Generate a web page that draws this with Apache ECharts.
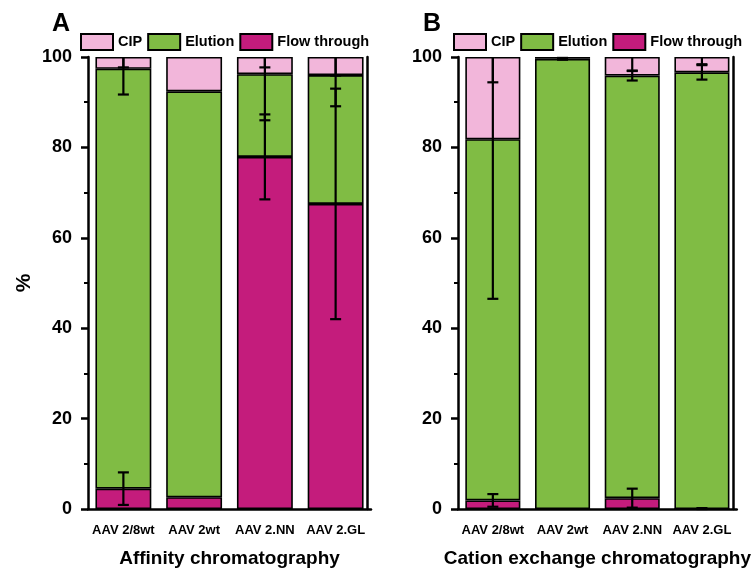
<!DOCTYPE html>
<html>
<head>
<meta charset="utf-8">
<script src="https://cdn.jsdelivr.net/npm/echarts@6/dist/echarts.min.js"></script>
<style>
  html, body { margin: 0; padding: 0; background: #fff; }
  #chart { width: 754px; height: 573px; }
</style>
</head>
<body>
<div id="chart"></div>
<script>
// Vector categories (shared by both panels)
const categories = ['AAV 2/8wt', 'AAV 2wt', 'AAV 2.NN', 'AAV 2.GL'];
const seriesNames = ['CIP', 'Elution', 'Flow through'];

// Panel A - affinity chromatography, share of vector in each fraction (%)
const affFlow = [4.5, 2.6, 77.9, 67.5];
const affElution = [92.9, 89.8, 18.3, 28.5];
const affCip = [2.6, 7.6, 3.8, 4.0];
// standard deviations (null = no error bar)
const affFlowSd = [3.6, null, 9.4, 25.5];
const affElutionSd = [5.7, null, 10.2, 6.9];
const affCipSd = [2.3, null, 2.3, 4.1];

// Panel B - cation exchange chromatography (%)
const cexFlow = [1.9, 0, 2.4, 0];
const cexElution = [79.9, 99.6, 93.5, 96.6];
const cexCip = [18.2, 0.4, 4.1, 3.4];
const cexFlowSd = [1.4, null, 2.1, 0.2];
const cexElutionSd = [35.3, 0.2, 1.1, 1.6];
const cexCipSd = [5.6, null, 3.1, 1.6];

// y axis scale
const yMin = 0, yMax = 100, yStep = 20;

const FONT = 'Liberation Sans, Arial, Helvetica, sans-serif';
const colors = { 'CIP': '#F2B6DA', 'Elution': '#80BC44', 'Flow through': '#C41C7C' };

// error bars are centred on the top of each stacked segment
function errorData(flow, elution, cip, flowSd, elutionSd, cipSd) {
  const out = [];
  categories.forEach((c, i) => {
    const t1 = flow[i];
    const t2 = t1 + elution[i];
    const t3 = t2 + cip[i];
    if (flowSd[i] != null) out.push([i, t1, flowSd[i]]);
    if (elutionSd[i] != null) out.push([i, t2, elutionSd[i]]);
    if (cipSd[i] != null) out.push([i, t3, cipSd[i]]);
  });
  return out;
}

function renderError(params, api) {
  const i = api.value(0), top = api.value(1), sd = api.value(2);
  const hiV = top + sd;
  const loV = Math.max(top - sd, yMin);
  const hi = api.coord([i, Math.min(hiV, yMax)]);
  const lo = api.coord([i, loV]);
  const cw = 5.5;
  const st = { stroke: '#000', lineWidth: 2.2 };
  const children = [
    { type: 'line', shape: { x1: lo[0], y1: lo[1], x2: hi[0], y2: hi[1] }, style: st },
    { type: 'line', shape: { x1: lo[0] - cw, y1: lo[1], x2: lo[0] + cw, y2: lo[1] }, style: st }
  ];
  if (hiV <= yMax) {
    children.push({ type: 'line', shape: { x1: hi[0] - cw, y1: hi[1], x2: hi[0] + cw, y2: hi[1] }, style: st });
  }
  return { type: 'group', children: children };
}

function xAxes(gridIndex, name) {
  const line = { lineStyle: { color: '#000', width: 2.5 } };
  return [
    {
      type: 'category', gridIndex: gridIndex, position: 'bottom', data: categories,
      axisLine: line,
      axisTick: { alignWithLabel: true, length: 7, lineStyle: { color: '#000', width: 2.5 } },
      axisLabel: { interval: 0, color: '#000', fontFamily: FONT, fontWeight: 'bold', fontSize: 13, margin: 15 },
      name: name, nameLocation: 'middle', nameGap: 40,
      nameTextStyle: { color: '#000', fontFamily: FONT, fontWeight: 'bold', fontSize: 19 }
    },
    {
      type: 'category', gridIndex: gridIndex, position: 'bottom', data: categories,
      axisLine: { show: false },
      axisTick: { interval: 0, length: 4, lineStyle: { color: '#000', width: 2 } },
      axisLabel: { show: false }
    }
  ];
}

function yAxes(gridIndex, name, rightOffset) {
  return [
    {
      type: 'value', gridIndex: gridIndex, position: 'left', min: yMin, max: yMax, interval: yStep,
      axisLine: { show: true, lineStyle: { color: '#000', width: 2.5 } },
      axisTick: { show: true, length: 7, lineStyle: { color: '#000', width: 2.5 } },
      minorTick: { show: true, splitNumber: 2, length: 4, lineStyle: { color: '#000', width: 2 } },
      splitLine: { show: false },
      axisLabel: { color: '#000', fontFamily: FONT, fontWeight: 'bold', fontSize: 18, margin: 16 },
      name: name, nameLocation: 'middle', nameGap: 53,
      nameTextStyle: { color: '#000', fontFamily: FONT, fontWeight: 'bold', fontSize: 21 }
    },
    {
      type: 'value', gridIndex: gridIndex, position: 'right', offset: rightOffset,
      min: yMin, max: yMax, interval: yStep,
      axisLine: { show: true, lineStyle: { color: '#000', width: 2.5 } },
      axisTick: { show: false }, axisLabel: { show: false }, splitLine: { show: false }
    }
  ];
}

function barSeries(panel, xIdx, yIdx, flow, elution, cip) {
  const vals = { 'Flow through': flow, 'Elution': elution, 'CIP': cip };
  return ['Flow through', 'Elution', 'CIP'].map(n => ({
    type: 'bar', name: n, stack: panel, xAxisIndex: xIdx, yAxisIndex: yIdx,
    barWidth: '79%', data: vals[n],
    itemStyle: { color: colors[n], borderColor: '#000', borderWidth: 1.6 },
    emphasis: { disabled: true }, z: 2
  }));
}

function legend(left) {
  return {
    left: left, top: 33, padding: 0, itemWidth: 32, itemHeight: 16, itemGap: 5,
    icon: 'rect', selectedMode: false,
    data: seriesNames,
    textStyle: { color: '#000', fontFamily: FONT, fontWeight: 'bold', fontSize: 14.5 }
  };
}

const chart = echarts.init(document.getElementById('chart'), null, { renderer: 'canvas' });
chart.setOption({
  animation: false,
  backgroundColor: '#fff',
  title: [
    { text: 'A', left: 52, top: 12, padding: 0, textStyle: { fontFamily: FONT, fontWeight: 'bold', fontSize: 25, color: '#000' } },
    { text: 'B', left: 423, top: 12, padding: 0, textStyle: { fontFamily: FONT, fontWeight: 'bold', fontSize: 25, color: '#000' } }
  ],
  legend: [legend(80), legend(453)],
  grid: [
    { left: 88, top: 57, width: 283, height: 456, containLabel: false },
    { left: 458, top: 57, width: 283, height: 456, containLabel: false }
  ],
  xAxis: [...xAxes(0, 'Affinity chromatography'), ...xAxes(1, 'Cation exchange chromatography')],
  yAxis: [...yAxes(0, '%', -4), ...yAxes(1, '', -3.5)],
  series: [
    ...barSeries('A', 0, 0, affFlow, affElution, affCip),
    ...barSeries('B', 2, 2, cexFlow, cexElution, cexCip),
    {
      type: 'custom', name: 'err-A', xAxisIndex: 0, yAxisIndex: 0, z: 5,
      encode: { x: 0, y: 1 }, renderItem: renderError, silent: true,
      data: errorData(affFlow, affElution, affCip, affFlowSd, affElutionSd, affCipSd)
    },
    {
      type: 'custom', name: 'err-B', xAxisIndex: 2, yAxisIndex: 2, z: 5,
      encode: { x: 0, y: 1 }, renderItem: renderError, silent: true,
      data: errorData(cexFlow, cexElution, cexCip, cexFlowSd, cexElutionSd, cexCipSd)
    }
  ]
});
</script>
</body>
</html>
